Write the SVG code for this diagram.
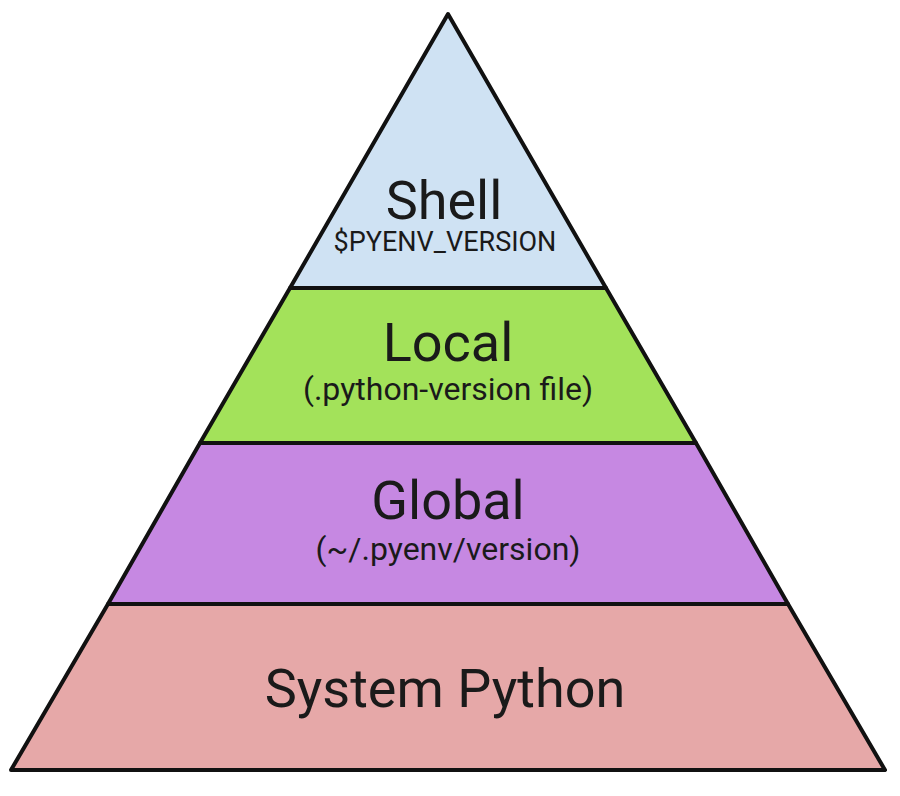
<svg xmlns="http://www.w3.org/2000/svg" width="900" height="796" viewBox="0 0 900 796">
<style>
.l{stroke:#111;stroke-width:4;stroke-linejoin:round}
.t{font-family:Roboto,"Liberation Sans",sans-serif;fill:#1a1a1a;text-anchor:middle}
.b{font-size:54px}.s{font-size:32px}.p{font-size:27px}
</style>
<rect width="900" height="796" fill="#fff"/>
<g id="system"><polygon class="l" points="108,604 788,604 885,770 11,770" fill="#e6a8a8"/><text class="t b" x="445" y="707">System Python</text></g>
<g id="global"><polygon class="l" points="200,443 696,443 788,604 108,604" fill="#c688e2"/><text class="t b" x="448" y="519">Global</text><text class="t s" x="448" y="560">(~/.pyenv/version)</text></g>
<g id="local"><polygon class="l" points="290,288 606,288 696,443 200,443" fill="#a3e25a"/><text class="t b" x="448" y="361">Local</text><text class="t s" x="448" y="400">(.python-version file)</text></g>
<g id="shell"><polygon class="l" points="448,14 606,288 290,288" fill="#cfe2f3"/><text class="t b" x="444" y="219">Shell</text><text class="t p" x="445" y="251">$PYENV_VERSION</text></g>
<g id="connectors"/>
</svg>
